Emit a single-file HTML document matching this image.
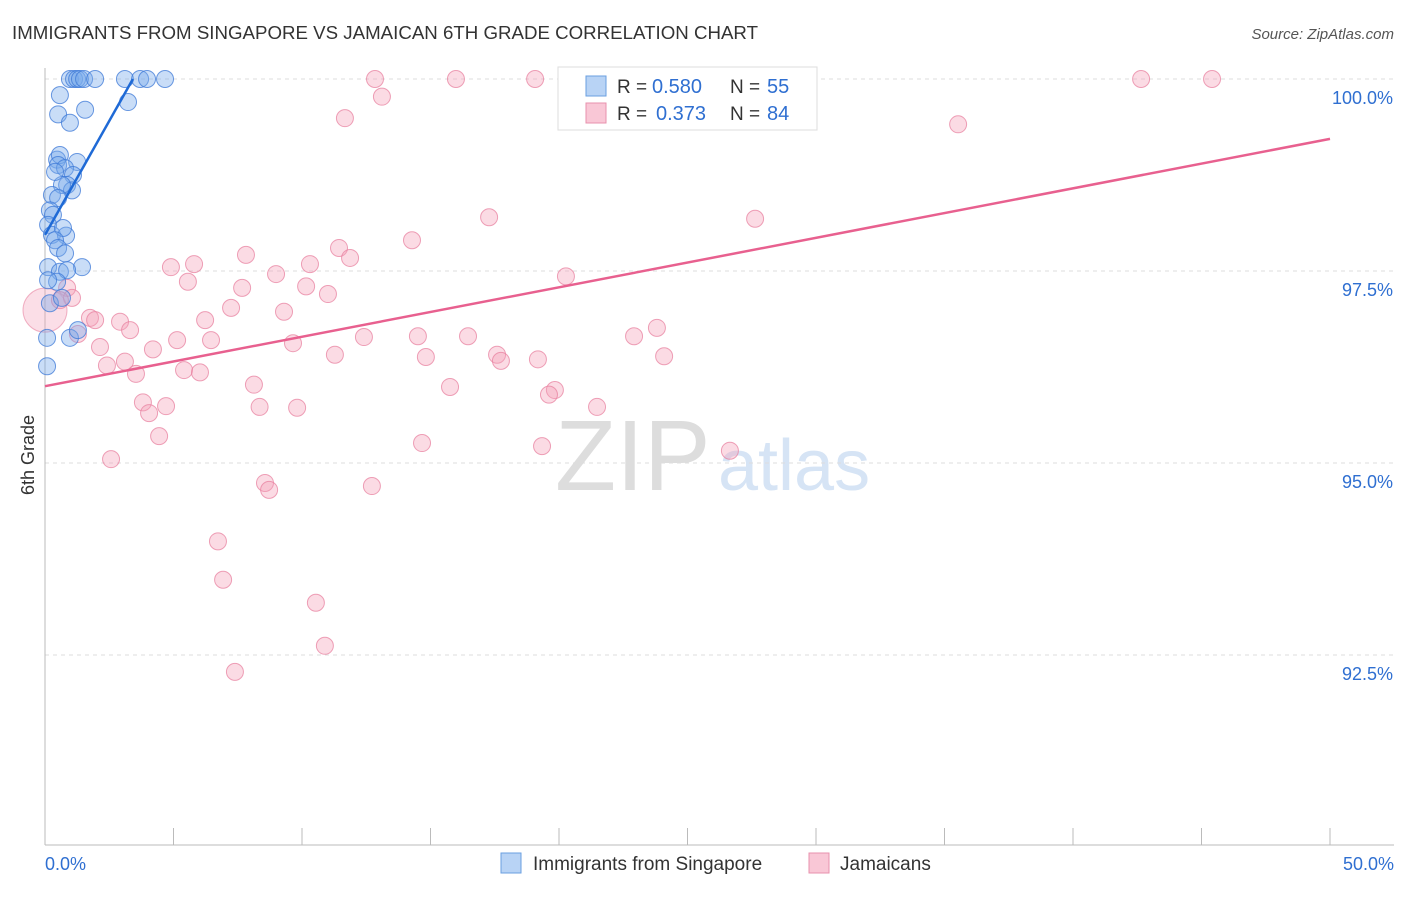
<!DOCTYPE html>
<html><head><meta charset="utf-8"><style>
body{margin:0;background:#fff;font-family:"Liberation Sans",sans-serif;}
svg text{font-family:"Liberation Sans",sans-serif;}
</style></head><body>
<svg width="1406" height="892">
<text x="12" y="39" font-size="18.5" fill="#333" textLength="746" lengthAdjust="spacingAndGlyphs">IMMIGRANTS FROM SINGAPORE VS JAMAICAN 6TH GRADE CORRELATION CHART</text>
<text x="1394" y="39" font-size="15" fill="#555" font-style="italic" text-anchor="end">Source: ZipAtlas.com</text>
<text x="555" y="490" font-size="100" fill="#ddd" font-family="Liberation Serif">ZIP</text>
<text x="718" y="490" font-size="72" fill="#d6e4f5">atlas</text>
<g id="grid"></g><g id="axes"></g><g id="marks"></g>
<text x="34" y="455" font-size="18" fill="#333" transform="rotate(-90 34 455)" text-anchor="middle">6th Grade</text>
<g>
<rect x="558" y="67" width="259" height="63" fill="#fff" stroke="#ddd"/>
<rect x="586" y="76" width="20" height="20" fill="#b8d3f5" stroke="#6a9fe0"/>
<rect x="586" y="103" width="20" height="20" fill="#f9c7d6" stroke="#e892ad"/>
<text x="617" y="93" font-size="19" fill="#333">R = </text>
<text x="652" y="93" font-size="20" fill="#2f6fd1">0.580</text>
<text x="730" y="93" font-size="19" fill="#333">N = </text>
<text x="767" y="93" font-size="20" fill="#2f6fd1">55</text>
<text x="617" y="120" font-size="19" fill="#333">R = </text>
<text x="656" y="120" font-size="20" fill="#2f6fd1">0.373</text>
<text x="730" y="120" font-size="19" fill="#333">N = </text>
<text x="767" y="120" font-size="20" fill="#2f6fd1">84</text>
</g>
<g>
<rect x="501" y="853" width="20" height="20" fill="#b8d3f5" stroke="#6a9fe0"/>
<text x="533" y="870" font-size="19" fill="#333">Immigrants from Singapore</text>
<rect x="809" y="853" width="20" height="20" fill="#f9c7d6" stroke="#e892ad"/>
<text x="840" y="870" font-size="19" fill="#333">Jamaicans</text>
</g>
</svg>
<script>
const yTicks=[100,97.5,95,92.5];
const yTickLabels=["100.0%","97.5%","95.0%","92.5%"];
const xTickLabels=["0.0%","50.0%"];
const blueX=[0.97,1.13,1.25,1.36,1.52,1.95,3.11,3.70,3.97,4.67,0.58,0.51,1.56,0.97,3.23,0.47,0.58,0.51,1.25,0.78,1.09,0.86,1.05,0.66,0.39,0.27,0.51,0.19,0.31,0.12,0.27,0.82,0.7,0.39,0.51,0.78,0.12,1.44,0.58,0.86,0.47,0.12,0.19,0.66,0.08,0.97,1.28,0.08];
const blueY=[100,100,100,100,100,100,100,100,100,100,99.79,99.54,99.6,99.43,99.7,98.95,99.01,98.88,98.92,98.84,98.75,98.62,98.55,98.62,98.79,98.49,98.45,98.29,98.23,98.1,97.97,97.96,98.06,97.9,97.8,97.73,97.55,97.55,97.49,97.51,97.36,97.38,97.08,97.15,96.63,96.63,96.73,96.26];
const pinkX=[12.84,15.99,19.07,26.54,42.65,45.41,13.11,11.67,35.53,17.28,27.63,14.28,11.44,7.82,11.87,5.8,4.9,10.31,8.99,20.27,5.56,7.67,10.16,11.01,0.86,1.05,0.58,7.24,9.3,1.75,1.95,2.92,6.23,3.31,1.28,23.81,22.92,16.46,14.51,12.41,5.14,6.46,9.65,2.14,4.2,11.28,14.82,17.59,17.74,19.18,24.09,3.11,2.41,3.54,5.41,6.03,8.13,15.76,19.84,19.61,3.81,4.71,4.05,8.35,9.81,21.48,4.44,14.67,19.34,26.65,2.57,8.56,8.72,12.72,6.73,6.93,10.54,10.89,7.39];
const pinkY=[100,100,100,100,100,100,99.77,99.49,99.41,98.2,98.18,97.9,97.8,97.71,97.67,97.59,97.55,97.59,97.46,97.43,97.36,97.28,97.3,97.2,97.28,97.15,97.12,97.02,96.97,96.89,96.86,96.84,96.86,96.73,96.68,96.76,96.65,96.65,96.65,96.64,96.6,96.6,96.56,96.51,96.48,96.41,96.38,96.41,96.33,96.35,96.39,96.32,96.27,96.16,96.21,96.18,96.02,95.99,95.95,95.89,95.79,95.74,95.65,95.73,95.72,95.73,95.35,95.26,95.22,95.16,95.05,94.74,94.65,94.7,93.98,93.48,93.18,92.62,92.28];
const blueLine=[[0,97.97],[3.42,100]];
const pinkLine=[[0,96.0],[50,99.22]];
const NS="http://www.w3.org/2000/svg";
const sx=v=>45+v*25.7, sy=v=>79+(100-v)*76.8;
function mk(t,a,p){const e=document.createElementNS(NS,t);for(const k in a)e.setAttribute(k,a[k]);p.appendChild(e);return e;}
const grid=document.getElementById('grid'),axes=document.getElementById('axes'),marks=document.getElementById('marks');
yTicks.forEach((t,i)=>{
 const l=mk('line',{x1:45,x2:1394,y1:sy(t),y2:sy(t),stroke:'#ddd','stroke-dasharray':'4,4'},grid);
 
 
 const tx=mk('text',{x:1393,y:sy(t)+25,'font-size':18,fill:'#2f6fd1','text-anchor':'end'},axes);tx.textContent=yTickLabels[i];
 
 
});
mk('line',{x1:45,x2:45,y1:68,y2:845,stroke:'#bbb'},axes);
mk('line',{x1:45,x2:1394,y1:845,y2:845,stroke:'#bbb'},axes);
for(let i=0;i<=10;i++){const t=mk('line',{x1:sx(i*5),x2:sx(i*5),y1:828,y2:845,stroke:'#bbb'},axes);
 
 }
[[0,'start',45],[1,'end',1394]].forEach(([i,a,x])=>{const tx=mk('text',{x:x,y:870,'font-size':18,fill:'#2f6fd1','text-anchor':a},axes);tx.textContent=xTickLabels[i];
 
 });
const bigP=mk('circle',{cx:sx(0),cy:sy(96.99),r:22,fill:'rgba(244,160,185,0.35)',stroke:'rgba(232,130,160,0.6)'},marks);


pinkX.forEach((x,i)=>{const c=mk('circle',{cx:sx(x),cy:sy(pinkY[i]),r:8.5,fill:'rgba(244,160,185,0.38)',stroke:'rgba(232,130,160,0.75)'},marks);
 
 });
blueX.forEach((x,i)=>{const c=mk('circle',{cx:sx(x),cy:sy(blueY[i]),r:8.5,fill:'rgba(120,170,235,0.4)',stroke:'rgba(60,120,215,0.75)'},marks);
 
 });
const pl=mk('line',{x1:sx(pinkLine[0][0]),y1:sy(pinkLine[0][1]),x2:sx(pinkLine[1][0]),y2:sy(pinkLine[1][1]),stroke:'#e8608f','stroke-width':2.5},marks);


const bl=mk('line',{x1:sx(blueLine[0][0]),y1:sy(blueLine[0][1]),x2:sx(blueLine[1][0]),y2:sy(blueLine[1][1]),stroke:'#1f6ad6','stroke-width':2.5},marks);


</script>
</body></html>
